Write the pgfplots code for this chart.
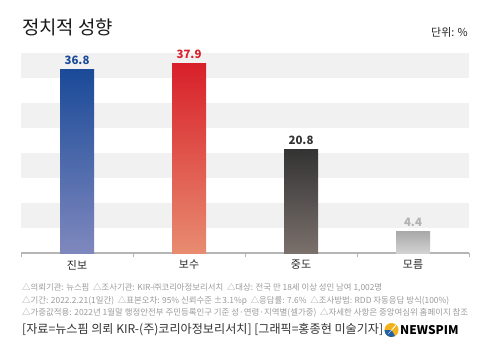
\documentclass[border=0pt]{standalone}
\usepackage{pgfplots}
\pgfplotsset{compat=1.18}
\usepackage{fontspec}
\setmainfont{Noto Sans CJK KR}
\definecolor{stripe}{HTML}{F1F1F1}
\definecolor{axisgray}{HTML}{B5B5B5}
\definecolor{blueT}{HTML}{1A4A98}
\definecolor{blueB}{HTML}{7F88BE}
\definecolor{redT}{HTML}{D8202A}
\definecolor{redB}{HTML}{E88C70}
\definecolor{darkT}{HTML}{333333}
\definecolor{darkB}{HTML}{7A706C}
\definecolor{grayT}{HTML}{A8A8A8}
\definecolor{grayB}{HTML}{D2D2D2}
\definecolor{notegray}{HTML}{9A9A9A}
\definecolor{srcgray}{HTML}{333333}
\definecolor{logoblue}{HTML}{1F5FA8}
\definecolor{logoyellow}{HTML}{F2B21C}
\begin{document}
\begin{tikzpicture}
\path[use as bounding box] (0,0) rectangle (488bp,-355bp);
\node[anchor=west,text=black!90,inner sep=0] at (22bp,-27bp) {\resizebox{91bp}{!}{\fontsize{17}{20}\selectfont 정치적 성향}};
\node[anchor=east,font=\fontsize{11}{13}\selectfont,text=black!85,inner sep=0] at (468bp,-32bp) {단위: \%};
\begin{axis}[
  at={(21bp,-253bp)}, anchor=south west,
  scale only axis, width=448bp, height=200bp,
  xmin=-0.5, xmax=3.5, ymin=0, ymax=40,
  axis x line*=bottom, axis y line=none,
  axis line style={axisgray, line width=1.2bp, -},
  xtick={0,1,2,3},
  xticklabels={진보,보수,중도,모름},
  major tick length=0pt,
  xticklabel style={font=\fontsize{11}{13}\selectfont, text=black!85, yshift=-3.5bp},
  extra x ticks={-0.5,0.5,1.5,2.5,3.5},
  extra x tick labels={},
  extra x tick style={major tick length=4bp, tick align=outside, tick style={axisgray, line width=0.6bp}},
  ytick=\empty,
  clip=false,
  point meta=explicit symbolic,
  nodes near coords,
  every node near coord/.append style={font=\bfseries\fontsize{11.5}{13}\selectfont, yshift=1bp},
]
\fill[stripe] (axis cs:-0.5,5) rectangle (axis cs:3.5,10);
\fill[stripe] (axis cs:-0.5,15) rectangle (axis cs:3.5,20);
\fill[stripe] (axis cs:-0.5,25) rectangle (axis cs:3.5,30);
\fill[stripe] (axis cs:-0.5,35) rectangle (axis cs:3.5,40);
\addplot[ybar, bar shift=0pt, bar width=34bp, draw=none, top color=blueT, bottom color=blueB, nodes near coords style={text=blueT}] coordinates {(0,36.8) [36.8]};
\addplot[ybar, bar shift=0pt, bar width=34bp, draw=none, top color=redT, bottom color=redB, nodes near coords style={text=redT}] coordinates {(1,37.9) [37.9]};
\addplot[ybar, bar shift=0pt, bar width=34bp, draw=none, top color=darkT, bottom color=darkB, nodes near coords style={text=darkT}] coordinates {(2,20.8) [20.8]};
\addplot[ybar, bar shift=0pt, bar width=34bp, draw=none, top color=grayT, bottom color=grayB, nodes near coords style={text=black!30}] coordinates {(3,4.4) [4.4]};
\end{axis}
\begin{scope}[every node/.style={anchor=west,inner sep=0,text=notegray}]
\node at (22bp,-288bp) {\resizebox{360bp}{!}{\fontsize{7.3}{9}\selectfont △의뢰기관: 뉴스핌 \ △조사기관: KIR-㈜코리아정보리서치 \ △대상: 전국 만 18세 이상 성인 남여 1,002명}};
\node at (22bp,-301bp) {\resizebox{427bp}{!}{\fontsize{7.3}{9}\selectfont △기간: 2022.2.21(1일간) \ △표본오차: 95\% 신뢰수준 ±3.1\%p \ △응답률: 7.6\% \ △조사방법: RDD 자동응답 방식(100\%)}};
\node at (22bp,-313bp) {\resizebox{446bp}{!}{\fontsize{7.3}{9}\selectfont △가중값적용: 2022년 1월말 행정안전부 주민등록인구 기준 성·연령·지역별(셀가중) \ △자세한 사항은 중앙여심위 홈페이지 참조}};
\end{scope}
\node[anchor=west,inner sep=0,text=srcgray] at (22bp,-330bp) {\resizebox{361bp}{!}{\fontsize{10.5}{12}\selectfont [자료=뉴스핌 의뢰 KIR-(주)코리아정보리서치] [그래픽=홍종현 미술기자]}};
\fill[logoyellow] (391.5bp,-330bp) circle (7bp);
\fill[logoblue] (391.5bp,-330bp) -- (384.5bp,-330bp) arc (180:300:7bp) -- cycle;
\fill[white] (388bp,-334bp) -- (397bp,-323bp) -- (395bp,-327bp) -- cycle;
\node[anchor=west,inner sep=0,text=black,font=\bfseries\fontsize{12}{14}\selectfont] at (400bp,-330bp) {NEWSPIM};
\end{tikzpicture}
\end{document}
